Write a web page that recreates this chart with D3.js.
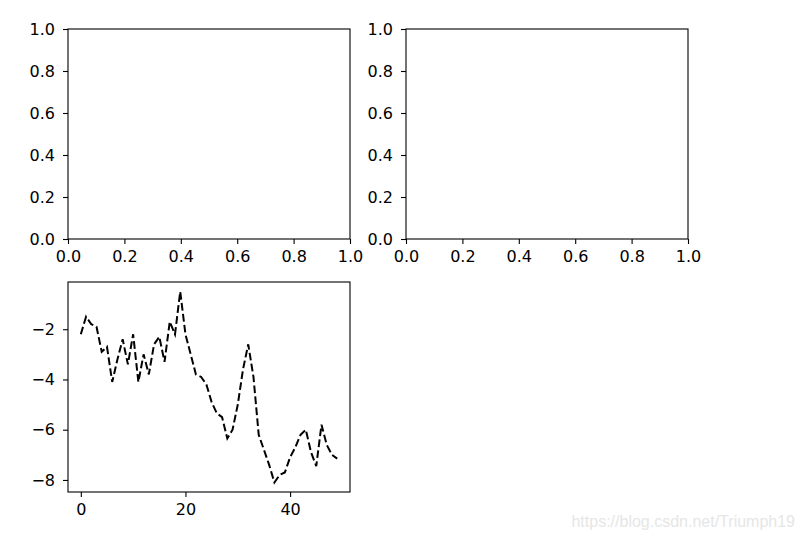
<!DOCTYPE html>
<html>
<head>
<meta charset="utf-8">
<script src="https://cdn.jsdelivr.net/npm/d3@7"></script>
<style>
body { margin: 0; background: #fff; }
svg { display: block; }
.tick text { font-family: "DejaVu Sans", sans-serif; font-size: 16px; fill: #000; }
</style>
</head>
<body>
<div id="chart"></div>
<script>
// values (cumulative random walk, 50 points)
var walkY = [-2.2, -1.5, -1.8, -1.9, -2.9, -2.7, -4.1, -3.2, -2.4, -3.4,
             -2.2, -4.1, -3.0, -3.8, -2.6, -2.3, -3.3, -1.7, -2.2, -0.5,
             -2.2, -3.0, -3.8, -3.9, -4.2, -4.9, -5.35, -5.5, -6.35, -6.0,
             -5.0, -3.6, -2.6, -3.9, -6.2, -6.8, -7.4, -8.1, -7.8, -7.7,
             -7.1, -6.7, -6.2, -6.0, -6.9, -7.45, -5.8, -6.6, -7.0, -7.15];
var walkX = d3.range(walkY.length);
var emptyTicks = [0, 0.2, 0.4, 0.6, 0.8, 1.0];
var lineXTicks = [0, 20, 40];
var lineYTicks = [-8, -6, -4, -2];

var width = 804, height = 539;
var svg = d3.select("#chart").append("svg").attr("width", width).attr("height", height);

// axes boxes in pixels
var boxes = [
    {x: 68, y: 29, w: 282, h: 210},
    {x: 406, y: 29, w: 282, h: 210},
    {x: 68, y: 282, w: 282, h: 210}
];

function drawAxes(box, xScale, yScale, xTicks, yTicks, fmt) {
    var g = svg.append("g").attr("transform", "translate(" + box.x + "," + box.y + ")");
    var xAxis = d3.axisBottom(xScale).tickValues(xTicks).tickSize(5).tickPadding(7).tickFormat(fmt);
    var yAxis = d3.axisLeft(yScale).tickValues(yTicks).tickSize(5).tickPadding(8).tickFormat(fmt);
    g.append("g").attr("transform", "translate(0," + box.h + ")").call(xAxis);
    g.append("g").call(yAxis);
    g.selectAll(".domain").remove();
    g.selectAll(".tick line").attr("stroke", "#000").attr("stroke-width", 1.1);
    g.selectAll(".tick text").attr("fill", "#000");
    g.append("rect")
        .attr("width", box.w).attr("height", box.h)
        .attr("fill", "none").attr("stroke", "#000").attr("stroke-width", 1.1);
    return g;
}

var unitFmt = d3.format(".1f");
for (var i = 0; i < 2; i++) {
    var b = boxes[i];
    var xs = d3.scaleLinear().domain([0, 1]).range([0, b.w]);
    var ys = d3.scaleLinear().domain([0, 1]).range([b.h, 0]);
    drawAxes(b, xs, ys, emptyTicks, emptyTicks, unitFmt);
}

// third panel: dashed line
var b3 = boxes[2];
var xr = d3.extent(walkX), yr = d3.extent(walkY);
var xm = (xr[1] - xr[0]) * 0.05, ym = (yr[1] - yr[0]) * 0.05;
var x3 = d3.scaleLinear().domain([xr[0] - xm, xr[1] + xm]).range([0, b3.w]);
var y3 = d3.scaleLinear().domain([yr[0] - ym, yr[1] + ym]).range([b3.h, 0]);
var minusFmt = function(d) { return d < 0 ? "\u2212" + Math.abs(d) : String(d); };
var g3 = drawAxes(b3, x3, y3, lineXTicks, lineYTicks, minusFmt);

var line = d3.line()
    .x(function(d, i) { return x3(walkX[i]); })
    .y(function(d) { return y3(d); });

g3.append("path")
    .datum(walkY)
    .attr("d", line)
    .attr("fill", "none")
    .attr("stroke", "#000")
    .attr("stroke-width", 2)
    .attr("stroke-dasharray", "7.7,3.3");

// watermark
svg.append("text")
    .attr("x", 795).attr("y", 527)
    .attr("text-anchor", "end")
    .attr("font-family", "Liberation Sans, Arial, sans-serif")
    .attr("font-size", 16)
    .attr("fill", "#e6e6e6")
    .text("https://blog.csdn.net/Triumph19");
</script>
</body>
</html>
